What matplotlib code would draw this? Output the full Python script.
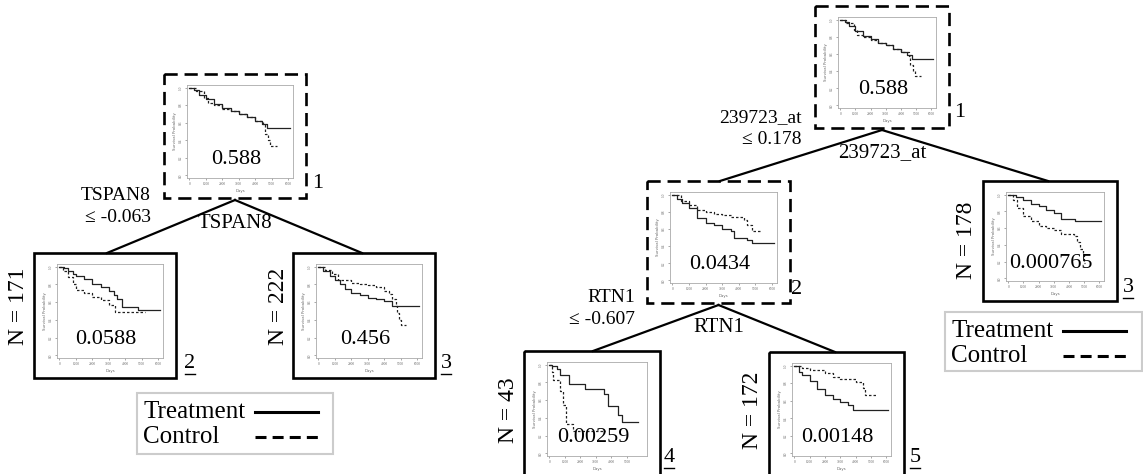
import matplotlib
matplotlib.use("Agg")
import matplotlib.pyplot as plt
import matplotlib.patches as patches

plt.rcParams['font.family'] = ['Liberation Serif', 'DejaVu Serif']

W, H = 1143, 474

# survival curves (days, survival probability)
root_trt_t = [0, 300, 600, 1000, 1500, 2000, 2500, 3000, 3500, 4000, 4400, 4700, 6100]
root_trt_s = [1.0, 0.97, 0.92, 0.87, 0.81, 0.77, 0.73, 0.70, 0.66, 0.62, 0.59, 0.54, 0.54]
root_ctl_t = [0, 400, 900, 1100, 1500, 2000, 2500, 3000, 3500, 4000, 4500, 4600, 4800, 4900, 5300]
root_ctl_s = [1.0, 0.96, 0.88, 0.82, 0.80, 0.76, 0.73, 0.70, 0.66, 0.62, 0.58, 0.47, 0.40, 0.34, 0.34]

l2_trt_t = [0, 300, 500, 800, 1000, 1500, 2000, 2500, 3000, 3300, 3500, 3800, 4800, 6100]
l2_trt_s = [1.0, 0.98, 0.95, 0.92, 0.90, 0.86, 0.81, 0.77, 0.72, 0.68, 0.63, 0.55, 0.51, 0.51]
l2_ctl_t = [0, 200, 500, 800, 1000, 1500, 2000, 2500, 3000, 3400, 5200]
l2_ctl_s = [1.0, 0.95, 0.88, 0.80, 0.74, 0.70, 0.66, 0.62, 0.57, 0.49, 0.49]

l3_trt_t = [0, 300, 700, 1000, 1300, 1600, 2000, 2500, 3000, 3500, 4000, 4500, 6100]
l3_trt_s = [1.0, 0.95, 0.90, 0.85, 0.80, 0.75, 0.70, 0.68, 0.65, 0.63, 0.61, 0.56, 0.56]
l3_ctl_t = [0, 400, 800, 1200, 2000, 2500, 3000, 3500, 4000, 4300, 4500, 4700, 4800, 4900, 5000, 5300]
l3_ctl_s = [1.0, 0.96, 0.92, 0.85, 0.82, 0.80, 0.79, 0.77, 0.73, 0.69, 0.64, 0.56, 0.48, 0.40, 0.34, 0.34]

r2_trt_t = [0, 300, 600, 1000, 1500, 2000, 2500, 3000, 3500, 3700, 4500, 4800, 6100]
r2_trt_s = [1.0, 0.95, 0.90, 0.84, 0.73, 0.67, 0.64, 0.60, 0.57, 0.49, 0.47, 0.44, 0.44]
r2_ctl_t = [0, 500, 1000, 1500, 2000, 2500, 3000, 3500, 4300, 4500, 4800, 5400]
r2_ctl_s = [1.0, 0.93, 0.88, 0.82, 0.80, 0.77, 0.76, 0.74, 0.70, 0.64, 0.58, 0.58]

r3_trt_t = [0, 500, 1000, 1500, 2000, 2500, 3000, 3500, 4400, 6100]
r3_trt_s = [1.0, 0.97, 0.93, 0.89, 0.86, 0.82, 0.78, 0.71, 0.68, 0.68]
r3_ctl_t = [0, 300, 600, 1000, 1500, 2000, 2500, 3000, 3500, 4300, 4500, 4700, 4900, 5000, 5050]
r3_ctl_s = [1.0, 0.93, 0.84, 0.75, 0.68, 0.63, 0.60, 0.58, 0.53, 0.50, 0.43, 0.35, 0.28, 0.18, 0.18]

r4_trt_t = [0, 200, 500, 700, 1300, 2300, 3500, 3800, 4400, 4700, 5700]
r4_trt_s = [1.0, 0.98, 0.95, 0.88, 0.78, 0.73, 0.67, 0.53, 0.43, 0.35, 0.35]
r4_ctl_t = [0, 200, 250, 700, 900, 1100, 1500, 3600]
r4_ctl_s = [1.0, 0.92, 0.83, 0.70, 0.55, 0.33, 0.25, 0.25]

r5_trt_t = [0, 300, 500, 1000, 1500, 2000, 2500, 3000, 3500, 3800, 6100]
r5_trt_s = [1.0, 0.93, 0.89, 0.82, 0.73, 0.66, 0.62, 0.59, 0.55, 0.49, 0.49]
r5_ctl_t = [0, 500, 1000, 2000, 2500, 3000, 4000, 4500, 4600, 5300]
r5_ctl_s = [1.0, 0.97, 0.95, 0.92, 0.87, 0.85, 0.81, 0.75, 0.66, 0.66]

p_values = ["0.588", "0.0588", "0.456", "0.588", "0.0434", "0.000765", "0.00259", "0.00148"]
node_ids = ["1", "2", "3", "1", "2", "3", "4", "5"]
n_labels = [None, "N = 171", "N = 222", None, None, "N = 178", "N = 43", "N = 172"]
split_vars = ["TSPAN8", "239723_at", "RTN1"]
split_rules = ["\u2264 -0.063", "\u2264 0.178", "\u2264 -0.607"]


def km_plot(box, trt_t, trt_s, ctl_t, ctl_s, pval, xticks_max=6000):
    x0, y0, x1, y1 = box
    ax = fig.add_axes([(x0 + 23) / W, 1 - (y1 - 20) / H,
                       (x1 - x0 - 36) / W, (y1 - y0 - 31) / H])
    ax.step(trt_t, trt_s, where='post', color='#222222', lw=0.9)
    ax.step(ctl_t, ctl_s, where='post', color='#222222', lw=0.9, ls=(0, (2, 1.6)))
    ax.set_xlim(-150, 6300)
    ax.set_ylim(-0.03, 1.03)
    ax.set_xticks(range(0, xticks_max + 1, 1000))
    ax.set_yticks([0, 0.2, 0.4, 0.6, 0.8, 1.0])
    ax.set_yticklabels(["0.0", "0.2", "0.4", "0.6", "0.8", "1.0"], rotation=90, va='center')
    ax.tick_params(labelsize=2.6, length=1.5, width=0.4, pad=1.5, colors='#666666')
    for s in ax.spines.values():
        s.set_color('#aaaaaa')
        s.set_linewidth(0.6)
    ax.set_xlabel("Days", fontsize=2.8, color='#666666', labelpad=2, family='DejaVu Sans')
    ax.set_ylabel("Survival Probability", fontsize=2.8, color='#666666', labelpad=1, family='DejaVu Sans')
    ax.text(0.46, 0.2, pval, transform=ax.transAxes, ha='center', va='center', fontsize=16)
    return ax


def node_box(box, dashed):
    x0, y0, x1, y1 = box
    ls = (0, (5, 2.6)) if dashed else '-'
    bg.add_patch(patches.Rectangle((x0, y0), x1 - x0, y1 - y0, fill=False,
                                   ec='black', lw=1.9, ls=ls))


def node_id(x, y, s, underline):
    bg.text(x, y, s, ha='center', va='center', fontsize=16)
    if underline:
        bg.plot([x - 5, x + 5], [y + 10, y + 10], color='black', lw=1)


def legend(x0, y0, x1, y1):
    bg.add_patch(patches.Rectangle((x0, y0), x1 - x0, y1 - y0, fill=False,
                                   ec='#cccccc', lw=1.5))
    ya = y0 + 19
    yb = y0 + 44
    bg.text(x0 + 6, ya, "Treatment", ha='left', va='center', fontsize=18)
    bg.text(x0 + 6, yb, "Control", ha='left', va='center', fontsize=18)
    bg.plot([x0 + 118, x0 + 181], [ya, ya], color='black', lw=2.2)
    bg.plot([x0 + 118, x0 + 181], [yb, yb], color='black', lw=2.2, ls=(0, (3.6, 2.0)))


fig = plt.figure(figsize=(W / 100, H / 100), dpi=100)
bg = fig.add_axes([0, 0, 1, 1])
bg.set_xlim(0, W)
bg.set_ylim(H, 0)
bg.axis('off')

boxes = [(164, 74, 306, 198), (34, 253, 176, 378), (293, 253, 435, 378),
         (815, 6, 949, 128), (647, 181, 790, 303), (983, 181, 1117, 301),
         (524, 351, 660, 476), (769, 352, 904, 476)]
dashed = [True, False, False, True, True, False, False, False]
curves = [(root_trt_t, root_trt_s, root_ctl_t, root_ctl_s),
          (l2_trt_t, l2_trt_s, l2_ctl_t, l2_ctl_s),
          (l3_trt_t, l3_trt_s, l3_ctl_t, l3_ctl_s),
          (root_trt_t, root_trt_s, root_ctl_t, root_ctl_s),
          (r2_trt_t, r2_trt_s, r2_ctl_t, r2_ctl_s),
          (r3_trt_t, r3_trt_s, r3_ctl_t, r3_ctl_s),
          (r4_trt_t, r4_trt_s, r4_ctl_t, r4_ctl_s),
          (r5_trt_t, r5_trt_s, r5_ctl_t, r5_ctl_s)]

for i, b in enumerate(boxes):
    node_box(b, dashed[i])
    km_plot(b, *curves[i], p_values[i], xticks_max=5000 if i == 6 else 6000)

# tree edges: (parent, child)
edges = [(0, 1), (0, 2), (3, 4), (3, 5), (4, 6), (4, 7)]
child_x = {1: 107, 2: 362, 4: 720, 5: 1048, 6: 593, 7: 835}
for p, c in edges:
    px = (boxes[p][0] + boxes[p][2]) / 2
    bg.plot([px, child_x[c]], [boxes[p][3] + 2, boxes[c][1]], color='black', lw=1.6, zorder=0)

# node numbers
id_pos = [(318, 184, False), (190, 364, True), (446, 364, True),
          (960, 112, False), (797, 289, False), (1128, 288, True),
          (669, 458, True), (915, 458, True)]
for i, (x, y, u) in enumerate(id_pos):
    node_id(x, y, node_ids[i], u)

# sample sizes
n_pos = [None, (18, 306), (279, 306), None, None, (966, 240), (508, 410), (752, 410)]
for i, pos in enumerate(n_pos):
    if pos:
        bg.text(pos[0], pos[1], n_labels[i], rotation=90, ha='center', va='center', fontsize=17)

# split labels
split_nodes = [0, 3, 4]
rule_pos = [(151, 196), (802, 118), (635, 298)]
for k, i in enumerate(split_nodes):
    rx, ry = rule_pos[k]
    bg.text(rx, ry, split_vars[k], ha='right', va='center', fontsize=14)
    bg.text(rx, ry + 21, split_rules[k], ha='right', va='center', fontsize=14)
    cx = (boxes[i][0] + boxes[i][2]) / 2
    bg.text(cx, boxes[i][3] + 25, split_vars[k], ha='center', va='center', fontsize=15)

legend(137, 393, 333, 454)
legend(945, 312, 1142, 371)

fig.savefig("out.png", dpi=100)
